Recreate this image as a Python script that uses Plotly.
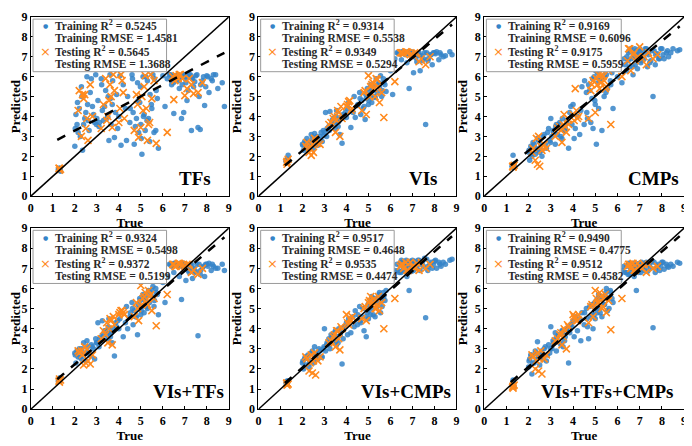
import plotly.graph_objects as go
from plotly.subplots import make_subplots

# observed (true) values shared by all six models
train_true = [1.25, 1.3, 1.3, 1.35,
              2.0, 2.05, 2.1, 2.15, 2.2, 2.3, 2.35, 2.4, 2.5, 2.55, 2.6, 2.7, 2.8, 2.9, 2.95,
              3.0, 3.05, 3.1, 3.2, 3.25, 3.3, 3.4, 3.5, 3.55, 3.6, 3.7, 3.8, 3.9,
              4.0, 4.05, 4.1, 4.2, 4.3, 4.35, 4.4, 4.5, 4.6, 4.65, 4.7, 4.8, 4.85, 4.9, 4.95,
              5.0, 5.05, 5.1, 5.15, 5.2, 5.3, 5.35, 5.4, 5.5, 5.55, 5.6, 5.7, 5.8,
              6.0, 6.1, 6.2, 6.3, 6.4, 6.5, 6.55, 6.6, 6.7, 6.75, 6.8, 6.85, 6.9, 6.95,
              7.0, 7.05, 7.1, 7.2, 7.3, 7.35, 7.4, 7.5, 7.6, 7.65, 7.7, 7.8, 7.9,
              8.0, 8.1, 8.2, 8.3, 8.5, 8.7, 8.8,
              1.28, 1.32, 1.3,
              2.02, 2.12, 2.25, 2.32, 2.45, 2.58, 2.65, 2.75, 2.85, 2.98,
              3.12, 3.22, 3.35, 3.45, 3.52, 3.65, 3.72, 3.85, 3.95, 3.62,
              4.52, 4.62, 4.75, 4.88, 4.98, 5.02, 5.12, 5.22, 5.28, 5.42, 5.48, 5.62, 5.68, 5.75,
              6.35, 6.42, 6.48, 6.52, 6.62, 6.68, 6.72, 6.78, 6.88, 6.92,
              7.02, 7.08, 7.15, 7.25, 7.32, 7.45, 7.55, 7.72, 7.85, 7.95,
              8.05, 8.25, 8.4]
test_true = [1.3, 1.3, 1.35,
             2.2, 2.3, 2.4, 2.45, 2.5, 2.6, 2.8,
             3.2, 3.4, 3.5, 3.6, 3.7, 3.8,
             4.0, 4.1, 4.2, 4.7, 4.8, 4.9, 5.0,
             5.1, 5.2, 5.3, 5.4, 5.5, 5.7, 6.2,
             6.5, 6.6, 6.7, 6.8, 7.0, 7.2, 7.3, 7.4, 7.6, 7.8,
             1.28,
             2.15, 2.35, 2.55, 2.7,
             3.3, 3.45, 3.55, 3.65, 3.75,
             4.05, 4.15, 4.25, 4.85, 5.05, 5.15, 5.25, 5.35, 5.45, 5.6,
             6.45, 6.55, 6.75, 6.9, 7.1]

# predicted values per model
train_pred_tfs = [1.35, 1.4, 1.3, 1.25,
                  2.5, 4.1, 3.6, 3.2, 4.4, 5.5, 2.3, 3.6, 4.2, 6.0, 3.8, 5.2, 4.5, 3.7, 6.1,
                  3.9, 4.8, 3.5, 5.9, 4.3, 3.8, 5.3, 4.0, 2.8, 6.1, 4.6, 2.95, 5.1,
                  4.0, 6.05, 2.55, 5.6, 4.4, 2.8, 5.0, 3.7, 6.1, 4.2, 2.6, 3.9, 5.7, 3.2, 4.7,
                  3.6, 2.1, 6.0, 4.1, 3.3, 5.8, 3.9, 2.75, 4.4, 6.1, 3.2, 5.3, 2.4,
                  6.05, 4.5, 5.9, 6.1, 5.6, 4.15, 6.0, 5.8, 6.1, 5.4, 5.95, 3.9, 6.1, 4.2,
                  6.0, 5.7, 4.8, 6.1, 3.3, 5.9, 5.5, 6.05, 3.45, 5.0, 3.35, 5.8, 4.55,
                  6.05, 5.2, 5.9, 6.1, 5.4, 5.7, 4.5,
                  1.35, 1.3, 1.4,
                  3.4, 4.7, 3.0, 5.0, 3.9, 4.6, 3.3, 5.9, 4.1, 3.6,
                  3.7, 5.6, 4.5, 3.9, 5.0, 3.6, 5.8, 4.2, 3.4, 4.9,
                  4.4, 5.9, 3.5, 4.8, 5.5, 2.9, 4.0, 6.0, 3.8, 5.1, 4.6, 5.9, 3.3, 4.9,
                  6.1, 6.0, 5.7, 6.05, 5.9, 6.1, 5.8, 6.0, 5.6, 6.1,
                  5.9, 6.05, 5.3, 6.1, 5.95, 5.75, 6.1, 5.6, 6.0, 5.5,
                  6.0, 5.8, 6.1]
test_pred_tfs = [1.4, 1.3, 1.35,
                 5.3, 3.0, 4.9, 5.1, 3.4, 2.8, 4.0,
                 3.4, 5.9, 4.0, 5.6, 3.45, 5.3,
                 3.7, 6.1, 5.2, 3.3, 5.1, 2.95, 3.45,
                 4.3, 6.05, 2.8, 3.7, 4.9, 2.65, 3.2,
                 4.85, 6.05, 5.9, 6.1, 5.05, 5.9, 5.6, 5.15, 5.2, 5.7,
                 1.4,
                 4.3, 5.1, 3.9, 5.6,
                 4.6, 3.8, 4.8, 5.0, 6.1,
                 4.4, 5.8, 3.9, 4.6, 5.0, 5.5, 4.4, 3.6, 6.1, 5.8,
                 6.0, 5.8, 6.1, 5.9, 5.4]

train_pred_vis = [1.75, 1.85, 1.7, 2.05,
                  2.6, 2.3, 2.75, 2.4, 2.9, 2.5, 2.7, 3.1, 2.4, 3.15, 2.8, 2.55, 3.0, 2.75, 3.3,
                  3.2, 4.2, 3.0, 3.5, 4.25, 3.6, 3.9, 3.4, 4.3, 3.7, 3.1, 2.65, 4.0,
                  3.95, 4.4, 4.7, 3.45, 4.2, 5.0, 3.95, 4.55, 5.2, 4.1, 4.8, 4.5, 3.85, 4.9, 5.4,
                  4.6, 5.0, 5.6, 4.7, 5.3, 4.95, 5.9, 5.2, 5.5, 6.05, 5.0, 5.7, 5.25,
                  6.3, 5.1, 6.9, 7.2, 7.15, 6.85, 7.2, 7.25, 7.2, 6.7, 7.2, 5.4, 7.15, 7.25,
                  7.2, 6.2, 7.15, 6.75, 7.2, 6.3, 7.05, 6.9, 3.6, 7.2, 6.8, 7.1, 6.6,
                  7.2, 7.25, 6.85, 7.1, 7.05, 7.25, 7.1,
                  1.8, 1.75, 1.7,
                  2.55, 2.65, 2.45, 2.7, 2.9, 2.6, 3.0, 2.85, 3.2, 3.05,
                  3.4, 3.3, 3.8, 3.6, 4.0, 3.75, 3.9, 4.1, 4.2, 3.5,
                  4.6, 4.9, 4.4, 5.1, 5.3, 4.8, 5.4, 5.5, 5.0, 5.6, 5.7, 5.3, 5.9, 5.6,
                  7.2, 7.15, 7.2, 7.25, 7.2, 7.1, 7.2, 7.25, 7.15, 7.2,
                  7.2, 7.1, 6.95, 7.2, 7.05, 6.8, 7.2, 6.9, 7.1, 7.2,
                  7.15, 7.2, 7.0]
test_pred_vis = [1.75, 1.6, 1.85,
                 2.7, 2.2, 2.05, 2.6, 2.2, 2.75, 2.6,
                 3.6, 3.9, 3.2, 4.3, 3.0, 3.9,
                 4.5, 4.75, 4.3, 4.3, 5.2, 4.1, 6.05,
                 5.5, 5.7, 5.0, 5.85, 4.7, 3.95, 5.75,
                 7.2, 7.15, 7.25, 7.2, 7.1, 7.2, 6.75, 6.9, 6.6, 7.0,
                 1.7,
                 2.5, 2.4, 2.9, 2.65,
                 3.7, 4.0, 3.8, 4.2, 4.5,
                 4.6, 4.8, 4.4, 5.3, 5.0, 5.6, 5.4, 5.9, 5.5, 5.2,
                 7.2, 7.2, 7.25, 7.1, 7.2]

train_pred_cmps = [1.5, 1.45, 2.05, 1.55,
                   2.2, 1.8, 2.5, 2.0, 2.7, 2.1, 2.3, 2.9, 2.2, 2.6, 2.0, 3.1, 2.4, 3.4, 2.8,
                   3.9, 3.0, 3.3, 2.6, 3.6, 3.1, 3.7, 2.9, 3.5, 3.3, 3.8, 2.4, 4.5,
                   4.6, 2.9, 3.4, 4.0, 3.1, 4.3, 5.5, 3.6, 5.2, 3.9, 5.6, 3.7, 4.9, 3.4, 6.0,
                   4.6, 2.6, 6.2, 4.4, 5.9, 3.3, 6.5, 5.0, 6.1, 5.4, 6.8, 5.6, 4.4,
                   6.0, 6.6, 5.7, 6.9, 6.3, 7.2, 6.5, 7.4, 6.1, 7.0, 6.6, 7.3, 6.4, 7.1,
                   7.4, 6.7, 7.2, 6.9, 7.4, 6.5, 7.1, 6.8, 5.0, 7.3, 6.6, 7.15, 6.9,
                   7.4, 6.9, 7.2, 7.0, 7.4, 7.3, 7.35,
                   1.5, 1.6, 1.45,
                   2.3, 2.1, 2.6, 2.4, 2.8, 2.3, 3.0, 2.6, 3.2, 2.7,
                   3.2, 3.5, 3.6, 3.0, 3.9, 3.4, 3.7, 4.2, 3.6, 3.3,
                   5.8, 4.2, 5.3, 5.9, 4.8, 6.3, 5.7, 6.6, 5.9, 6.0, 5.2, 6.4, 5.8, 6.2,
                   6.6, 7.0, 6.8, 7.3, 6.9, 6.5, 7.2, 7.4, 6.9, 7.1,
                   7.3, 6.8, 7.0, 7.4, 7.2, 6.7, 7.3, 7.1, 6.9, 7.4,
                   7.1, 7.3, 7.2]
test_pred_cmps = [1.5, 1.45, 1.55,
                  2.4, 1.8, 1.6, 3.0, 1.5, 2.3, 2.4,
                  3.0, 3.5, 2.7, 4.1, 3.2, 3.6,
                  4.1, 5.4, 3.9, 3.9, 5.3, 5.8, 4.2,
                  5.6, 5.4, 6.1, 5.8, 5.5, 3.6, 6.0,
                  7.4, 6.3, 7.1, 6.8, 7.5, 7.0, 6.6, 7.2, 6.9, 7.1,
                  1.5,
                  2.2, 2.9, 2.5, 2.6,
                  3.4, 3.3, 3.6, 3.5, 3.9,
                  3.8, 4.3, 4.0, 5.6, 5.9, 6.1, 5.7, 6.0, 5.4, 6.3,
                  6.8, 7.4, 7.2, 7.0, 6.9]

train_pred_vis_tfs = [1.4, 1.5, 1.45, 1.55,
                      2.8, 2.3, 2.9, 2.6, 3.0, 2.5, 2.75, 3.3, 2.4, 3.4, 2.85, 2.65, 3.1, 2.5, 3.5,
                      3.3, 4.3, 3.1, 3.6, 4.4, 3.7, 3.9, 3.5, 4.5, 3.8, 3.3, 2.65, 4.1,
                      4.0, 4.5, 4.8, 3.6, 4.3, 5.1, 4.0, 4.6, 5.3, 4.2, 4.9, 4.6, 3.7, 5.0, 5.5,
                      4.7, 5.1, 5.7, 4.8, 5.4, 5.0, 5.9, 5.3, 5.6, 6.1, 5.1, 5.8, 4.7,
                      6.3, 5.3, 6.6, 7.2, 7.1, 6.8, 7.2, 7.25, 7.15, 6.6, 7.2, 5.45, 7.1, 7.25,
                      7.2, 6.4, 7.1, 6.8, 7.2, 6.5, 7.0, 6.85, 3.65, 7.2, 6.7, 7.05, 6.6,
                      7.2, 7.25, 6.9, 7.1, 7.0, 7.2, 6.9,
                      1.5, 1.4, 1.55,
                      2.7, 2.9, 2.6, 3.0, 2.75, 3.1, 2.8, 3.2, 3.0, 3.3,
                      3.5, 3.4, 3.9, 3.7, 4.1, 3.8, 4.0, 4.3, 4.4, 3.6,
                      4.8, 5.0, 4.6, 5.2, 5.4, 4.9, 5.5, 5.6, 5.1, 5.8, 5.9, 5.4, 6.0, 5.7,
                      7.2, 7.15, 7.2, 7.25, 7.2, 7.1, 7.2, 7.25, 7.1, 7.2,
                      7.15, 7.05, 6.9, 7.2, 7.0, 6.8, 7.2, 6.9, 7.1, 7.2,
                      7.1, 7.2, 7.0]
test_pred_vis_tfs = [1.5, 1.35, 1.45,
                     2.8, 2.9, 2.2, 3.1, 2.3, 2.4, 2.7,
                     3.5, 3.7, 3.3, 4.5, 3.2, 4.2,
                     4.7, 4.9, 4.8, 4.6, 5.3, 4.4, 6.15,
                     5.5, 5.8, 5.2, 5.6, 4.9, 4.15, 5.7,
                     7.2, 7.1, 7.25, 7.2, 7.1, 7.2, 6.8, 6.9, 6.7, 7.0,
                     1.4,
                     2.9, 2.7, 3.0, 2.25,
                     3.9, 4.3, 4.0, 4.4, 4.6,
                     4.8, 4.9, 4.7, 5.0, 5.2, 5.6, 5.3, 5.9, 5.7, 5.5,
                     7.2, 7.1, 7.25, 7.15, 7.2]

train_pred_vis_cmps = [1.3, 1.35, 1.25, 1.4,
                       2.3, 2.0, 2.5, 2.2, 2.6, 2.1, 2.4, 2.8, 2.3, 3.1, 2.7, 2.5, 2.9, 2.6, 3.0,
                       4.0, 2.9, 3.2, 3.5, 3.0, 3.7, 3.4, 3.9, 3.2, 3.6, 3.9, 2.25, 4.1,
                       4.3, 3.7, 4.5, 3.8, 4.6, 4.1, 4.9, 4.2, 5.1, 4.3, 4.6, 3.9, 5.0, 3.6, 4.8,
                       4.5, 5.3, 4.7, 5.6, 5.0, 4.6, 5.5, 5.1, 5.8, 4.8, 5.4, 5.6, 5.9,
                       6.7, 6.5, 6.9, 7.2, 6.8, 7.4, 6.9, 7.1, 7.3, 6.6, 7.0, 5.9, 7.35, 6.85,
                       7.4, 6.9, 7.2, 7.0, 7.4, 6.9, 7.3, 7.1, 4.55, 7.45, 6.9, 7.2, 7.0,
                       7.35, 7.0, 7.3, 7.1, 7.2, 7.4, 7.45,
                       1.35, 1.3, 1.4,
                       2.4, 2.6, 2.7, 2.3, 2.9, 2.5, 2.8, 3.0, 2.6, 3.1,
                       3.3, 3.2, 3.6, 3.8, 3.4, 4.0, 3.7, 3.5, 4.1, 3.3,
                       4.7, 4.4, 5.0, 4.6, 5.2, 4.9, 5.4, 4.7, 5.5, 5.3, 5.7, 5.1, 5.8, 5.4,
                       6.9, 7.2, 6.8, 7.3, 7.0, 7.1, 7.4, 6.9, 7.2, 7.3,
                       7.0, 7.35, 7.1, 7.4, 7.2, 7.3, 7.5, 7.1, 7.3, 7.2,
                       7.4, 7.2, 7.3]
test_pred_vis_cmps = [1.3, 1.2, 1.25,
                      2.5, 1.9, 2.7, 1.8, 2.4, 1.7, 2.6,
                      3.3, 3.6, 3.1, 3.9, 2.95, 4.0,
                      4.7, 4.2, 4.4, 4.5, 5.0, 4.4, 5.3,
                      5.6, 5.3, 5.0, 5.2, 4.9, 4.0, 5.5,
                      7.2, 7.0, 7.3, 6.9, 7.1, 7.25, 6.9, 7.3, 7.0, 7.2,
                      1.3,
                      2.6, 2.3, 2.8, 2.4,
                      3.4, 3.7, 3.9, 3.5, 4.1,
                      4.3, 4.5, 4.6, 5.1, 5.4, 5.2, 5.5, 5.0, 5.6, 5.3,
                      7.1, 7.2, 6.9, 7.3, 7.0]

train_pred_all = [1.2, 1.35, 1.45, 1.1,
                  2.1, 2.5, 2.7, 1.75, 2.3, 2.9, 2.5, 3.35, 2.2, 2.8, 2.6, 3.0, 2.4, 3.2, 2.8,
                  4.1, 3.0, 3.4, 3.8, 2.9, 3.6, 3.3, 3.9, 3.1, 3.7, 4.0, 2.3, 4.2,
                  4.4, 3.6, 4.6, 3.9, 4.5, 3.4, 4.8, 4.2, 5.0, 4.1, 3.5, 4.6, 5.2, 4.0, 4.7,
                  4.5, 5.4, 4.8, 5.7, 5.0, 4.6, 5.6, 5.2, 6.0, 4.9, 5.5, 5.8, 5.3,
                  6.6, 6.4, 6.9, 7.1, 6.8, 7.25, 6.7, 7.0, 7.2, 6.6, 6.95, 5.9, 7.2, 6.8,
                  7.25, 6.8, 7.1, 6.9, 7.3, 6.85, 7.2, 7.0, 4.05, 7.3, 6.8, 7.1, 6.9,
                  7.3, 6.95, 7.2, 7.05, 7.1, 7.3, 7.25,
                  1.3, 1.4, 1.15,
                  2.4, 2.7, 2.3, 2.8, 2.6, 2.9, 2.5, 3.1, 2.7, 3.0,
                  3.3, 3.5, 3.7, 3.2, 3.9, 3.6, 4.0, 3.8, 4.1, 3.4,
                  4.8, 4.5, 5.1, 4.7, 5.3, 5.0, 5.5, 4.8, 5.6, 5.2, 5.8, 5.0, 5.9, 5.5,
                  6.8, 7.1, 6.7, 7.2, 6.9, 7.0, 7.25, 6.85, 7.1, 7.2,
                  6.95, 7.3, 7.05, 7.25, 7.1, 7.2, 7.35, 7.0, 7.2, 7.1,
                  7.3, 7.1, 7.2]
test_pred_all = [1.15, 1.05, 1.2,
                 2.6, 2.0, 2.8, 1.9, 2.5, 1.75, 2.7,
                 3.4, 3.7, 3.2, 4.0, 3.0, 4.1,
                 4.7, 4.5, 4.4, 4.3, 5.1, 4.6, 5.9,
                 5.3, 5.8, 5.0, 5.5, 4.8, 3.95, 5.5,
                 7.2, 7.0, 7.25, 6.9, 7.1, 7.2, 6.8, 7.2, 7.0, 7.1,
                 1.1,
                 2.7, 2.4, 2.9, 2.5,
                 3.5, 3.8, 3.6, 3.9, 4.2,
                 4.6, 4.4, 4.7, 5.2, 5.5, 5.3, 5.6, 5.1, 5.7, 5.4,
                 7.1, 7.2, 6.9, 7.25, 7.0]

panel_names = ['TFs', 'VIs', 'CMPs', 'VIs+TFs', 'VIs+CMPs', 'VIs+TFs+CMPs']
train_preds = [train_pred_tfs, train_pred_vis, train_pred_cmps,
               train_pred_vis_tfs, train_pred_vis_cmps, train_pred_all]
test_preds = [test_pred_tfs, test_pred_vis, test_pred_cmps,
              test_pred_vis_tfs, test_pred_vis_cmps, test_pred_all]

train_r2 = ['0.5245', '0.9314', '0.9169', '0.9324', '0.9517', '0.9490']
train_rmse = ['1.4581', '0.5538', '0.6096', '0.5498', '0.4648', '0.4775']
test_r2 = ['0.5645', '0.9349', '0.9175', '0.9372', '0.9535', '0.9512']
test_rmse = ['1.3688', '0.5294', '0.5959', '0.5199', '0.4474', '0.4582']

# dashed fitted line of each model
fit_slope = [0.575, 0.932, 0.918, 0.928, 0.96, 0.955]
fit_intercept = [2.14, 0.42, 0.45, 0.38, 0.15, 0.2]
fit_range = [1.2, 8.8]

BLUE = '#3584C8'
ORANGE = '#FF8A1E'
FONT = 'Liberation Serif'

# panel positions in the page (paper coordinates, page body has an 8px offset)
col_domains = [[0.0275, 0.3165], [0.3598, 0.6488], [0.6893, 0.9812]]
row_domains = [[0.5807, 0.9955], [0.0874, 0.5067]]
label_x = [8.3, 8.25, 8.85, 8.85, 8.85, 8.65]

fig = make_subplots(rows=2, cols=3)

for i, name in enumerate(panel_names):
    row, col = i // 3 + 1, i % 3 + 1
    fig.add_trace(go.Scatter(
        x=train_true, y=train_preds[i], mode='markers',
        marker=dict(color=BLUE, size=5.5, opacity=0.85),
        showlegend=False
    ), row=row, col=col)
    fig.add_trace(go.Scatter(
        x=test_true, y=test_preds[i], mode='markers',
        marker=dict(symbol='x-thin', size=7, line=dict(color=ORANGE, width=1.6)),
        showlegend=False
    ), row=row, col=col)
    # 1:1 line
    fig.add_trace(go.Scatter(
        x=[0, 9], y=[0, 9], mode='lines',
        line=dict(color='black', width=1.5), showlegend=False
    ), row=row, col=col)
    # fitted line
    fig.add_trace(go.Scatter(
        x=fit_range, y=[fit_slope[i] * v + fit_intercept[i] for v in fit_range],
        mode='lines', line=dict(color='black', width=2.5, dash='dash'),
        showlegend=False
    ), row=row, col=col)

    ax = '' if i == 0 else str(i + 1)
    xref, yref = 'x' + ax, 'y' + ax
    fig.update_layout({
        'xaxis' + ax: dict(domain=col_domains[col - 1]),
        'yaxis' + ax: dict(domain=row_domains[row - 1]),
    })

    # legend box
    fig.add_shape(type='rect', xref=xref, yref=yref, x0=0.1, x1=6.17, y0=6.25, y1=8.89,
                  line=dict(color='#9a9a9a', width=1), fillcolor='white', layer='above')
    rows_text = ['Training R<sup>2</sup> = ' + train_r2[i],
                 'Training RMSE = ' + train_rmse[i],
                 'Testing R<sup>2</sup> = ' + test_r2[i],
                 'Testing RMSE = ' + test_rmse[i]]
    rows_y = [8.55, 7.9, 7.25, 6.62]
    for t, yy in zip(rows_text, rows_y):
        fig.add_annotation(x=1.0, y=yy, xref=xref, yref=yref, text=t, showarrow=False,
                           xanchor='left', yanchor='middle',
                           font=dict(family=FONT, size=11.5, color='#2a2a2a', weight='bold'))
    fig.add_annotation(x=0.66, y=8.55, xref=xref, yref=yref, text='●', showarrow=False,
                       font=dict(family='DejaVu Sans', size=6, color=BLUE))
    fig.add_annotation(x=0.66, y=7.25, xref=xref, yref=yref, text='×', showarrow=False,
                       font=dict(family='DejaVu Sans', size=13, color=ORANGE))

    # panel label
    fig.add_annotation(x=label_x[i], y=0.9, xref=xref, yref=yref, text=name,
                       showarrow=False, xanchor='right', yanchor='middle',
                       font=dict(family=FONT, size=19, color='black', weight='bold'))

fig.update_xaxes(range=[0, 9], dtick=1, showgrid=False, zeroline=False,
                 showline=True, linecolor='black', linewidth=1, mirror=True,
                 ticks='inside', ticklen=3, tickcolor='black',
                 tickfont=dict(family=FONT, size=12, color='black', weight='bold'),
                 title=dict(text='True', standoff=1,
                            font=dict(family=FONT, size=13, color='black', weight='bold')))
fig.update_yaxes(range=[0, 9], dtick=1, showgrid=False, zeroline=False,
                 showline=True, linecolor='black', linewidth=1, mirror=True,
                 ticks='inside', ticklen=3, tickcolor='black',
                 tickfont=dict(family=FONT, size=12, color='black', weight='bold'),
                 title=dict(text='Predicted', standoff=4,
                            font=dict(family=FONT, size=13, color='black', weight='bold')))

fig.update_layout(
    width=692, height=446,
    margin=dict(l=0, r=0, t=0, b=0),
    paper_bgcolor='white', plot_bgcolor='white',
    showlegend=False
)

fig.write_html('out.html')
